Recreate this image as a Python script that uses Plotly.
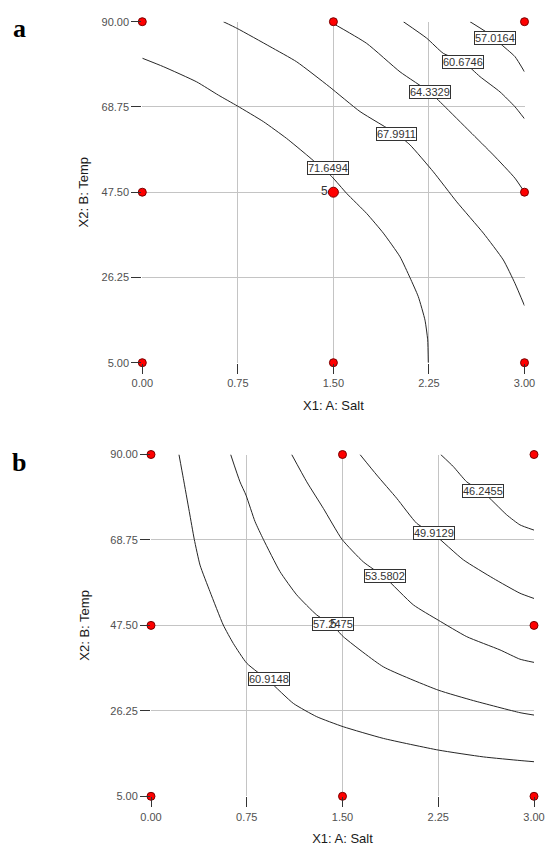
import plotly.graph_objects as go

# ---------------- data ----------------
x_ticks = [0.0, 0.75, 1.5, 2.25, 3.0]
y_ticks = [5.0, 26.25, 47.5, 68.75, 90.0]

design_x = [0.0, 1.5, 3.0, 0.0, 3.0, 0.0, 1.5, 3.0]
design_y = [90.0, 90.0, 90.0, 47.5, 47.5, 5.0, 5.0, 5.0]
center_x = [1.5]
center_y = [47.5]
center_reps = "5"

a_levels = ["71.6494", "67.9911", "64.3329", "60.6746", "57.0164"]
a_x = [
    [0.0, 0.165, 0.427, 0.597, 0.746, 0.950, 1.133, 1.290, 1.342, 1.487, 1.604, 1.761, 1.892, 2.023, 2.101, 2.166, 2.219, 2.240, 2.245],
    [0.636, 0.746, 1.002, 1.212, 1.468, 1.709, 1.997, 2.101, 2.284, 2.468, 2.677, 2.834, 2.925, 3.0],
    [1.473, 1.761, 2.023, 2.258, 2.363, 2.572, 2.755, 2.925, 3.0],
    [2.049, 2.232, 2.363, 2.520, 2.651, 2.808, 2.925, 3.0],
    [2.572, 2.768, 2.808, 2.925, 3.0],
]
a_y = [
    [80.9, 78.8, 75.0, 71.7, 69.0, 65.1, 60.9, 56.8, 55.4, 51.4, 47.2, 42.2, 37.3, 31.4, 26.2, 21.5, 15.6, 10.7, 5.0],
    [90.0, 88.3, 83.8, 80.0, 73.8, 67.6, 62.0, 59.3, 52.6, 45.1, 37.3, 30.6, 24.8, 19.2],
    [90.0, 84.6, 77.5, 72.4, 69.2, 62.6, 56.8, 51.0, 47.5],
    [90.0, 85.9, 82.1, 80.0, 76.3, 72.5, 68.8, 65.8],
    [90.0, 86.0, 84.6, 81.3, 77.5],
]
a_lab_x = [1.46, 1.997, 2.258, 2.520, 2.768]
a_lab_y = [53.5, 62.0, 72.4, 80.0, 86.0]

b_levels = ["60.9148", "57.2475", "53.5802", "49.9129", "46.2455"]
b_x = [
    [0.219, 0.253, 0.300, 0.339, 0.384, 0.462, 0.566, 0.645, 0.750, 0.927, 1.115, 1.298, 1.506, 1.820, 2.250, 2.603, 2.890, 3.0],
    [0.624, 0.697, 0.744, 0.815, 0.880, 1.010, 1.141, 1.298, 1.423, 1.506, 1.820, 2.250, 2.525, 2.890, 3.0],
    [1.102, 1.220, 1.350, 1.496, 1.663, 1.833, 2.055, 2.250, 2.473, 2.734, 2.890, 3.0],
    [1.637, 1.768, 1.925, 2.081, 2.219, 2.447, 2.681, 2.890, 3.0],
    [2.269, 2.368, 2.473, 2.603, 2.786, 2.890, 3.0],
]
b_y = [
    [90.0, 84.1, 75.8, 68.9, 62.5, 55.9, 47.6, 43.0, 38.1, 33.6, 28.1, 24.8, 22.3, 19.4, 16.5, 14.8, 13.9, 13.6],
    [90.0, 83.2, 79.9, 73.3, 68.9, 60.9, 55.1, 50.1, 47.5, 44.7, 37.2, 31.4, 28.8, 25.8, 25.2],
    [90.0, 83.2, 76.6, 68.9, 63.3, 59.4, 52.6, 48.8, 44.7, 41.4, 39.1, 38.3],
    [90.0, 84.9, 79.1, 72.9, 70.1, 63.8, 59.2, 55.5, 54.2],
    [90.0, 87.0, 83.2, 80.6, 75.0, 72.5, 71.2],
]
b_lab_x = [0.927, 1.423, 1.833, 2.219, 2.603]
b_lab_y = [34.2, 47.9, 59.8, 70.4, 81.0]

x_title = "X1: A: Salt"
y_title = "X2: B: Temp"

# ---------------- figure ----------------
W, H = 545, 846


def fx(px):
    return px / W


def fy(py):
    return 1 - py / H


fig = go.Figure()

panels = [
    dict(xa="x", ya="y", lx=a_x, ly=a_y, levels=a_levels, labx=a_lab_x, laby=a_lab_y),
    dict(xa="x2", ya="y2", lx=b_x, ly=b_y, levels=b_levels, labx=b_lab_x, laby=b_lab_y),
]

annotations = []
for p in panels:
    for xs, ys in zip(p["lx"], p["ly"]):
        fig.add_trace(go.Scatter(x=xs, y=ys, mode="lines", xaxis=p["xa"], yaxis=p["ya"],
                                 line=dict(color="#262626", width=1, shape="spline", smoothing=0.5),
                                 hoverinfo="skip", showlegend=False))
    fig.add_trace(go.Scatter(x=design_x, y=design_y, mode="markers", xaxis=p["xa"], yaxis=p["ya"],
                             marker=dict(color="#ff0000", size=8, line=dict(color="#7a0000", width=1)),
                             cliponaxis=False, showlegend=False))
    fig.add_trace(go.Scatter(x=center_x, y=center_y, mode="markers", xaxis=p["xa"], yaxis=p["ya"],
                             marker=dict(color="#ff0000", size=10, line=dict(color="#7a0000", width=1)),
                             cliponaxis=False, showlegend=False))
    for t, lx, ly in zip(p["levels"], p["labx"], p["laby"]):
        annotations.append(dict(x=lx, y=ly, xref=p["xa"], yref=p["ya"], text=t, showarrow=False,
                                font=dict(family="Liberation Sans, Arial", size=11, color="#333333"),
                                bgcolor="white", bordercolor="#333333", borderwidth=1, borderpad=0))
    annotations.append(dict(x=center_x[0], y=center_y[0], xref=p["xa"], yref=p["ya"], text=center_reps,
                            showarrow=False, xshift=-9, yshift=1,
                            font=dict(family="Liberation Sans, Arial", size=12, color="#333333")))

# panel letters
annotations.append(dict(x=fx(19), y=fy(28), xref="paper", yref="paper", text="<b>a</b>", showarrow=False,
                        xanchor="center", yanchor="middle",
                        font=dict(family="Liberation Serif, Times New Roman", size=26, color="black")))
annotations.append(dict(x=fx(19), y=fy(462), xref="paper", yref="paper", text="<b>b</b>", showarrow=False,
                        xanchor="center", yanchor="middle",
                        font=dict(family="Liberation Serif, Times New Roman", size=26, color="black")))

axis_common = dict(showgrid=True, gridcolor="#c4c4c4", gridwidth=1, zeroline=False,
                   ticks="outside", ticklen=10, tickcolor="#333333", tickwidth=1,
                   showline=False, tickformat=".2f", automargin=False,
                   tickfont=dict(family="Liberation Sans, Arial", size=11, color="#505050"))
title_font = dict(family="Liberation Sans, Arial", size=13, color="#1a1a1a")

fig.update_layout(
    width=W, height=H, margin=dict(l=0, r=0, t=0, b=0),
    paper_bgcolor="white", plot_bgcolor="white",
    xaxis=dict(domain=[fx(142.3), fx(524.5)], range=[0, 3], tickvals=x_ticks, anchor="y",
               title=dict(text=x_title, font=title_font, standoff=12), **axis_common),
    yaxis=dict(domain=[fy(362.7), fy(21.7)], range=[5, 90], tickvals=y_ticks, anchor="x",
               title=dict(text=y_title, font=title_font, standoff=10), **axis_common),
    xaxis2=dict(domain=[fx(151), fx(534)], range=[0, 3], tickvals=x_ticks, anchor="y2",
                title=dict(text=x_title, font=title_font, standoff=12), **axis_common),
    yaxis2=dict(domain=[fy(796.3), fy(454.5)], range=[5, 90], tickvals=y_ticks, anchor="x2",
                title=dict(text=y_title, font=title_font, standoff=17), **axis_common),
    annotations=annotations,
)

# remove the default page margin so the 545x846 figure fills the window exactly
fig.write_html("out.html", config={"displayModeBar": False},
               post_script="document.body.style.margin='0';")
